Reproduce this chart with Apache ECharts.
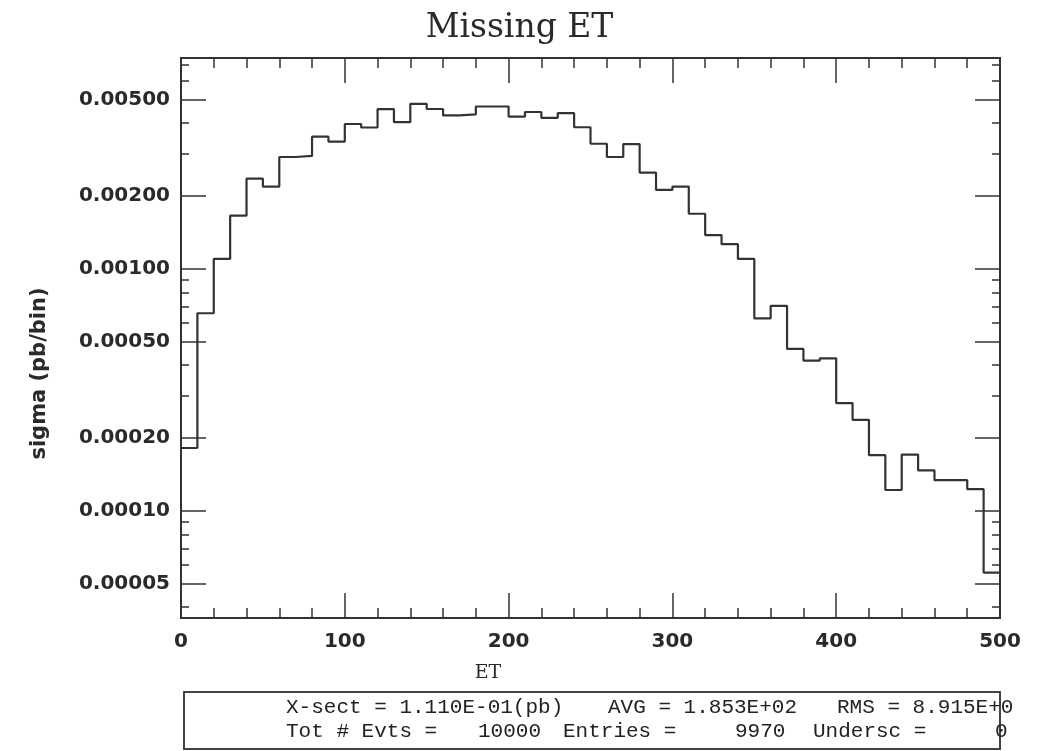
<!DOCTYPE html>
<html><head><meta charset="utf-8">
<script src="https://cdn.jsdelivr.net/npm/echarts@6/dist/echarts.min.js"></script>
<style>html,body{margin:0;padding:0;background:#fff}#c{width:1039px;height:751px}</style>
</head><body><div id="c"></div>
<script>
// ---- data ----
const binLow = [0,10,20,30,40,50,60,70,80,90,100,110,120,130,140,150,160,170,180,190,
  200,210,220,230,240,250,260,270,280,290,300,310,320,330,340,350,360,370,380,390,
  400,410,420,430,440,450,460,470,480,490];
const sigma = [1.82e-4,6.56e-4,1.10e-3,1.66e-3,2.36e-3,2.19e-3,2.90e-3,2.93e-3,3.52e-3,3.36e-3,
  3.97e-3,3.84e-3,4.57e-3,4.04e-3,4.81e-3,4.58e-3,4.31e-3,4.35e-3,4.69e-3,4.69e-3,
  4.26e-3,4.45e-3,4.21e-3,4.40e-3,3.85e-3,3.29e-3,2.90e-3,3.28e-3,2.50e-3,2.12e-3,
  2.19e-3,1.69e-3,1.38e-3,1.265e-3,1.10e-3,6.25e-4,7.03e-4,4.67e-4,4.18e-4,4.27e-4,
  2.79e-4,2.38e-4,1.70e-4,1.22e-4,1.71e-4,1.47e-4,1.34e-4,1.34e-4,1.23e-4,5.56e-5];
const binUpperEdge = 500;
const yMajorTicks = [0.005,0.002,0.001,0.0005,0.0002,0.0001,0.00005];
const yMinorTicks = [0.007,0.006,0.004,0.003,0.0009,0.0008,0.0007,0.0006,0.0004,0.0003,
  0.00009,0.00008,0.00007,0.00006,0.00004];
const statsLine1 = [["X-sect = 1.110E-01(pb)",286],["AVG = 1.853E+02",608],["RMS = 8.915E+0",837]];
const statsLine2 = [["Tot # Evts =",286],["10000",478],["Entries =",563],["9970",735],["Undersc =",813],["0",995]];

// ---- chart ----
const histData = binLow.map((x,i)=>[x, sigma[i]]);
histData.push([binUpperEdge, sigma[sigma.length-1]]);

const C = '#333';
const yMin = 3.61e-5, yMax = 7.44e-3;
function yAx(pos, ticks, len, labels){
  return {
    type:'log', logBase:10, min:yMin, max:yMax, position:pos,
    axisLine:{show:true, lineStyle:{color:C, width:2}},
    axisTick:{show:true, inside:true, length:len, customValues:ticks, lineStyle:{color:C, width:1.5}},
    axisLabel:{show:labels, customValues:ticks, margin:11, color:'#2a2a2a',
      fontFamily:'DejaVu Sans', fontWeight:'bold', fontSize:20,
      formatter:v=>Number(v).toFixed(5)},
    splitLine:{show:false}, minorTick:{show:false}
  };
}
function xAx(pos, labels){
  return {
    type:'value', min:0, max:500, interval:100, position:pos,
    axisLine:{show:true, onZero:false, lineStyle:{color:C, width:2}},
    axisTick:{show:true, inside:true, length:25, lineStyle:{color:C, width:1.5}},
    minorTick:{show:true, splitNumber:5, length:10, lineStyle:{color:C, width:1.5}},
    axisLabel:{show:labels, margin:14, color:'#2a2a2a', fontFamily:'DejaVu Sans',
      fontWeight:'bold', fontSize:20, showMaxLabel:true, showMinLabel:true},
    splitLine:{show:false}
  };
}
const graphics = [
  {type:'text', x:40, y:373.5, rotation:Math.PI/2,
    style:{text:'sigma (pb/bin)', fontFamily:'DejaVu Sans', fontWeight:'bold', fontSize:21,
      fill:'#2a2a2a', align:'center', verticalAlign:'middle'}},
  {type:'text', x:488, y:673,
    style:{text:'ET', fontFamily:'DejaVu Serif', fontSize:19, fill:'#2a2a2a', align:'center', verticalAlign:'middle'}},
  {type:'rect', shape:{x:184, y:692, width:816, height:57}, style:{fill:'none', stroke:'#444', lineWidth:2}}
];
statsLine1.forEach(([t,x])=>graphics.push({type:'text', x:x, y:707,
  style:{text:t, fontFamily:'Liberation Mono', fontSize:21, fill:'#222', verticalAlign:'middle'}}));
statsLine2.forEach(([t,x])=>graphics.push({type:'text', x:x, y:731,
  style:{text:t, fontFamily:'Liberation Mono', fontSize:21, fill:'#222', verticalAlign:'middle'}}));

const chart = echarts.init(document.getElementById('c'));
chart.setOption({
  animation:false,
  backgroundColor:'#fff',
  title:{text:'Missing ET', left:'center', top:7,
    textStyle:{fontFamily:'DejaVu Serif', fontWeight:'normal', fontSize:33, color:'#2a2a2a'}},
  grid:{left:181, right:39, top:58, bottom:133},
  xAxis:[xAx('bottom', true), xAx('top', false)],
  yAxis:[yAx('left', yMajorTicks, 25, true), yAx('left', yMinorTicks, 8, false),
         yAx('right', yMajorTicks, 25, false), yAx('right', yMinorTicks, 8, false)],
  series:[{type:'line', step:'end', data:histData, xAxisIndex:0, yAxisIndex:0,
    showSymbol:false, lineStyle:{color:C, width:2.2}}],
  graphic:graphics
});
</script></body></html>
